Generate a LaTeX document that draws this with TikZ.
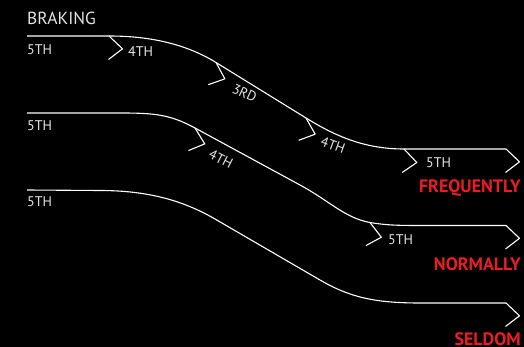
\documentclass[tikz,border=0pt]{standalone}
\usepackage{fontspec}
\setmainfont{PT Sans}
\usepackage{xcolor}
\usetikzlibrary{positioning, calc}
\definecolor{gearred}{RGB}{236,28,36}
\definecolor{labelgray}{RGB}{228,228,228}

\begin{document}
\begin{tikzpicture}[x=1pt, y=-1pt,
    route/.style={draw=white, line width=1.1pt, line join=round},
    gear/.style={text=labelgray, inner sep=0pt, font=\fontsize{14}{16}\selectfont},
    rate/.style={text=gearred, inner sep=0pt, anchor=base east, font=\fontsize{18}{20}\selectfont\bfseries},
    gearmark/.pic={\draw[route] (0,0) -- (13.5,12.8) -- (-0.5,23.5);}]
    \useasboundingbox (0,0) rectangle (524,347);
    \fill[black] (0,0) rectangle (524,347);
    \node[gear, anchor=base west, font=\fontsize{17.5}{20}\selectfont] (braking) at (27,25) {BRAKING};

    % frequently
    \coordinate (fs) at (27,36);
    \coordinate (fe) at (506,149);
    \draw[route] (fs) -- (109,36) coordinate (f4)
        .. controls (150,36) and (186,44) .. (216,62.5) coordinate (f3)
        -- (306,118) coordinate (f4b)
        .. controls (336,136.5) and (365,149) .. (404,149) coordinate (f5) -- (fe);
    \pic at (f4) {gearmark};
    \pic[rotate=-18] at (f3) {gearmark};
    \pic[rotate=-17] at (f4b) {gearmark};
    \pic[rotate=-3] at (f5) {gearmark};
    \pic at (fe) {gearmark};
    \node[gear, anchor=base west] (f5start) at (27,55) {5TH};
    \node[gear, anchor=base west] (f4lab) at (128,56.5) {4TH};
    \node[gear, rotate=-25] (f3lab) at (244.5,93) {3RD};
    \node[gear, rotate=-20] (f4blab) at (333,145) {4TH};
    \node[gear, anchor=base west] (f5lab) at (426,168) {5TH};
    \node[rate] (freq) at (521,192.5) {FREQUENTLY};

    % normally
    \coordinate (ns) at (27,113);
    \coordinate (ne) at (506,225.5);
    \draw[route] (ns) -- (120,113)
        .. controls (155,113) and (170,114.5) .. (195,128) coordinate (n4)
        -- (300,185) .. controls (330,201.3) and (345,218) .. (370,222.5) coordinate (n5)
        .. controls (385,225) and (395,225.5) .. (420,225.5) -- (ne);
    \pic[rotate=-15] at (n4) {gearmark};
    \pic[rotate=-9] at (n5) {gearmark};
    \pic at (ne) {gearmark};
    \node[gear, anchor=base west] (n5start) at (27,131) {5TH};
    \node[gear, rotate=-27] (n4lab) at (221,159) {4TH};
    \node[gear, anchor=base west] (n5lab) at (388,244) {5TH};
    \node[rate] (norm) at (521,270) {NORMALLY};

    % seldom
    \coordinate (ss) at (27,190);
    \coordinate (se) at (506,303);
    \draw[route] (ss) -- (100,190.5)
        .. controls (150,190.5) and (185,201.6) .. (215,219)
        -- (320,280) .. controls (350,297.4) and (375,303) .. (420,303) -- (se);
    \pic at (se) {gearmark};
    \node[gear, anchor=base west] (s5start) at (27,206.7) {5TH};
    \node[rate] (seld) at (521,345.5) {SELDOM};
\end{tikzpicture}
\end{document}
